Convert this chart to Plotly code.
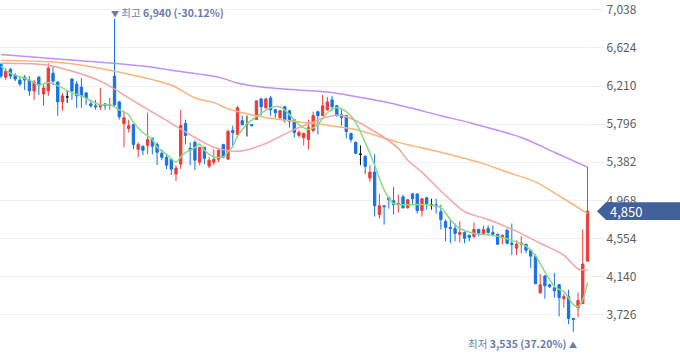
import plotly.graph_objects as go

# ---------------- data ----------------
days = list(range(125))

opens = [6447, 6307, 6393, 6329, 6275, 6307, 6275, 6157, 6307, 6124,
         6157, 6350, 6253, 6038, 6092, 6286, 6232, 6199, 6135, 6017,
         5995, 5985, 6017, 6000, 6318, 6038, 5802, 5748, 5791, 5522,
         5555, 5565, 5641, 5576, 5479, 5436, 5415, 5253, 5361, 5802,
         5533, 5598, 5382, 5544, 5339, 5382, 5415, 5576, 5415, 5727,
         5683, 5834, 5791, 5791, 5845, 6070, 5974, 6081, 5952, 5866,
         5985, 5941, 5845, 5673, 5651, 5630, 5727, 5931, 5888, 5952,
         6060, 5995, 5898, 5888, 5694, 5598, 5469, 5447, 5210, 5275,
         4813, 4909, 4995, 4963, 4920, 5006, 4888, 5038, 5038, 4856,
         4995, 4920, 4920, 4845, 4738, 4673, 4662, 4598, 4619, 4587,
         4576, 4651, 4598, 4662, 4619, 4598, 4565, 4641, 4501, 4447,
         4490, 4490, 4426, 4361, 3964, 4146, 4050, 4017, 4050, 3899,
         3921, 3684, 3802, 3845, 4307]
highs = [6458, 6404, 6404, 6350, 6318, 6329, 6318, 6275, 6318, 6221,
         6458, 6425, 6264, 6135, 6167, 6296, 6264, 6296, 6146, 6060,
         6060, 6189, 6017, 6081, 6940, 6049, 5941, 5845, 5791, 5598,
         5565, 5920, 5651, 5598, 5522, 5458, 5425, 5350, 5952, 5845,
         5598, 5619, 5544, 5544, 5436, 5522, 5522, 5576, 5737, 5780,
         5995, 5888, 5888, 5791, 6049, 6081, 6081, 6103, 5963, 5952,
         5995, 5952, 5845, 5727, 5705, 5845, 5931, 5941, 6113, 6092,
         6103, 6006, 5974, 5898, 5705, 5608, 5565, 5458, 5350, 5469,
         5038, 4909, 5006, 5114, 5028, 5028, 4985, 5049, 5038, 4995,
         5006, 4985, 4985, 4920, 4759, 4759, 4716, 4738, 4630, 4598,
         4727, 4662, 4694, 4694, 4694, 4608, 4598, 4662, 4716, 4533,
         4576, 4490, 4436, 4383, 4168, 4157, 4060, 4179, 4060, 3953,
         3996, 3684, 3964, 4651, 5330]
lows = [6296, 6275, 6286, 6264, 6210, 6167, 6103, 6060, 6113, 5995,
        6103, 6221, 5888, 5941, 6028, 6060, 5974, 5974, 6006, 5974,
        5952, 5952, 5952, 5952, 5974, 5845, 5544, 5705, 5522, 5436,
        5458, 5469, 5469, 5350, 5404, 5307, 5243, 5178, 5307, 5576,
        5350, 5296, 5350, 5361, 5318, 5350, 5382, 5425, 5415, 5544,
        5673, 5780, 5662, 5770, 5845, 5888, 5963, 5888, 5866, 5845,
        5813, 5759, 5651, 5651, 5565, 5522, 5705, 5683, 5888, 5941,
        5941, 5877, 5780, 5640, 5598, 5469, 5350, 5253, 5168, 4791,
        4770, 4705, 4877, 4813, 4834, 4877, 4877, 4931, 4823, 4791,
        4866, 4866, 4823, 4651, 4523, 4501, 4523, 4512, 4501, 4523,
        4555, 4576, 4587, 4598, 4576, 4490, 4490, 4490, 4372, 4372,
        4393, 4393, 4232, 4060, 3953, 3899, 4017, 3910, 3706, 3802,
        3620, 3535, 3695, 3845, 4307]
closes = [6318, 6372, 6318, 6286, 6232, 6275, 6157, 6253, 6221, 6189,
          6404, 6264, 6038, 6103, 6092, 6157, 6103, 6103, 6081, 5995,
          5985, 6006, 5995, 6006, 6006, 5877, 5866, 5780, 5576, 5576,
          5512, 5630, 5555, 5490, 5436, 5350, 5307, 5318, 5780, 5673,
          5512, 5404, 5544, 5425, 5404, 5415, 5512, 5436, 5716, 5705,
          5974, 5791, 5791, 5780, 6049, 5985, 6070, 5952, 5920, 5941,
          5834, 5823, 5705, 5705, 5694, 5759, 5888, 5888, 5995, 6038,
          5985, 5888, 5866, 5716, 5630, 5479, 5469, 5339, 5275, 4909,
          4909, 4899, 4974, 4920, 4931, 4888, 4974, 4985, 4856, 4985,
          4931, 4920, 4899, 4759, 4673, 4662, 4608, 4619, 4555, 4565,
          4651, 4608, 4651, 4619, 4598, 4490, 4587, 4501, 4490, 4490,
          4501, 4426, 4361, 4060, 4050, 4039, 4028, 3985, 3910, 3921,
          3684, 3674, 3878, 4275, 4850]

# moving-average lines (day index, price)
ma5_day = [0, 2, 4, 6, 8, 10, 12, 15, 17, 19, 21, 23, 25, 27, 28, 30, 32, 33,
           35, 37, 38, 39, 41, 42, 43, 45, 47, 48, 49, 50, 52, 54, 57, 59, 61,
           63, 65, 67, 69, 71, 73, 75, 77, 79, 81, 83, 85, 90, 93, 95, 97, 100,
           104, 108, 111, 113, 114, 115, 116, 117, 118, 119, 120, 121, 122, 123, 124]
ma5_val = [6425, 6350, 6310, 6275, 6221, 6250, 6215, 6135, 6103, 6049, 6006,
           6006, 5952, 5898, 5813, 5705, 5630, 5544, 5470, 5383, 5440, 5486,
           5540, 5580, 5512, 5440, 5440, 5497, 5555, 5665, 5795, 5877, 5974,
           5985, 5898, 5791, 5737, 5791, 5920, 5974, 5931, 5813, 5598, 5350,
           5081, 4931, 4920, 4920, 4888, 4759, 4662, 4608, 4587, 4533, 4469,
           4368, 4280, 4187, 4108, 4032, 4000, 3977, 3906, 3835, 3813, 3886, 4072]

ma20_day = [0, 10, 21, 28, 34, 41, 45, 50, 55, 62, 70, 73, 79, 84, 86, 89, 93,
            98, 103, 109, 114, 119, 122, 124]
ma20_val = [6458, 6436, 6264, 6049, 5866, 5651, 5544, 5501, 5565, 5737, 5888,
            5877, 5716, 5533, 5404, 5275, 5070, 4845, 4759, 4630, 4501, 4372,
            4222, 4211]

ma60_day = [0, 14, 28, 36, 41, 45, 48, 55, 61, 68, 75, 84, 93, 101, 107, 113, 119, 124]
ma60_val = [6490, 6458, 6328, 6221, 6081, 6030, 5963, 5877, 5834, 5791, 5737,
            5598, 5490, 5383, 5275, 5168, 4985, 4824]

ma120_day = [0, 10, 21, 32, 36, 46, 50, 55, 63, 69, 73, 82, 93, 99, 110, 117, 124]
ma120_val = [6554, 6511, 6468, 6415, 6382, 6307, 6243, 6200, 6167, 6146, 6113,
             6028, 5888, 5813, 5651, 5490, 5329]

y_ticks = [3726, 4140, 4554, 4968, 5382, 5796, 6210, 6624, 7038]
high_text = "6,940 (-30.12%)"
low_text = "3,535 (37.20%)"

# ---------------- styling ----------------
RED = "#ee3a3a"
BLUE = "#1672e6"
FONT = "Noto Sans CJK KR"
Y_RANGE = [3254, 7102]
X_RANGE = [-0.21, 124.53]
H = 358

fig = go.Figure()

for dx, dv, col in [(ma120_day, ma120_val, "#bd91f5"),
                    (ma60_day, ma60_val, "#fbb47c"),
                    (ma20_day, ma20_val, "#f5a3a3"),
                    (ma5_day, ma5_val, "#86db86")]:
    fig.add_trace(go.Scatter(x=dx, y=dv, mode="lines",
                             line=dict(color=col, width=1.5, shape="spline", smoothing=0.8),
                             hoverinfo="skip", showlegend=False))

normal = [i for i in days if opens[i] != closes[i]]
flat = [i for i in days if opens[i] == closes[i]]

fig.add_trace(go.Candlestick(
    x=[days[i] for i in normal],
    open=[opens[i] for i in normal], high=[highs[i] for i in normal],
    low=[lows[i] for i in normal], close=[closes[i] for i in normal],
    increasing=dict(line=dict(color=RED, width=1), fillcolor=RED),
    decreasing=dict(line=dict(color=BLUE, width=1), fillcolor=BLUE),
    showlegend=False))
fig.add_trace(go.Candlestick(
    x=[days[i] for i in flat],
    open=[opens[i] for i in flat], high=[highs[i] for i in flat],
    low=[lows[i] for i in flat], close=[closes[i] for i in flat],
    increasing=dict(line=dict(color="#111111", width=1), fillcolor="#111111"),
    decreasing=dict(line=dict(color="#111111", width=1), fillcolor="#111111"),
    showlegend=False))

# high / low labels
hi_i = max(days, key=lambda i: highs[i])
lo_i = min(days, key=lambda i: lows[i])
fig.add_annotation(x=days[hi_i], y=highs[hi_i], xref="x", yref="y",
                   text="<span style='font-size:8px'>▼</span> 최고 <b>" + high_text + "</b>",
                   showarrow=False, xanchor="left", yanchor="middle", xshift=-6, yshift=6,
                   font=dict(family=FONT, size=10.5, color="#6a7cad"))
fig.add_annotation(x=days[lo_i], y=lows[lo_i], xref="x", yref="y",
                   text="최저 <b>" + low_text + "</b> <span style='font-size:8px'>▲</span>",
                   showarrow=False, xanchor="right", yanchor="middle", xshift=6, yshift=-11,
                   font=dict(family=FONT, size=10.5, color="#6a7cad"))

# current price tag
last = closes[-1]
px_to_val = (Y_RANGE[1] - Y_RANGE[0]) / H
half = 9 * px_to_val
plot_w = 590
x_tip, x_body, x_end = 597 / plot_w, 606 / plot_w, 684 / plot_w
fig.add_shape(type="path", xref="paper", yref="y", layer="above",
              path=f"M {x_tip},{last} L {x_body},{last + half} L {x_end},{last + half} "
                   f"L {x_end},{last - half} L {x_body},{last - half} Z",
              fillcolor="#42609b", line=dict(width=0))
fig.add_annotation(x=608 / plot_w, y=last, xref="paper", yref="y",
                   text=f"{last:,}", showarrow=False, xanchor="left", yanchor="middle",
                   font=dict(family=FONT, size=13, color="white"))

fig.update_layout(
    width=680, height=H,
    margin=dict(l=0, r=90, t=0, b=0),
    paper_bgcolor="white", plot_bgcolor="white",
    showlegend=False,
    xaxis=dict(range=X_RANGE, visible=False, rangeslider=dict(visible=False),
               showgrid=False, zeroline=False),
    yaxis=dict(range=Y_RANGE, side="right", tickvals=y_ticks,
               ticktext=[f"{v:,}" for v in y_ticks], ticklabeloverflow="allow",
               showgrid=True, gridcolor="#f0f0f0", gridwidth=1,
               ticks="outside", ticklen=13, tickcolor="#ececec",
               zeroline=False, showline=False,
               tickfont=dict(family=FONT, size=12, color="#5c5c5c")),
    font=dict(family=FONT),
)

fig.write_html("out.html", config={"displayModeBar": False},
               post_script="document.body.style.margin='0';document.body.style.overflow='hidden';")
